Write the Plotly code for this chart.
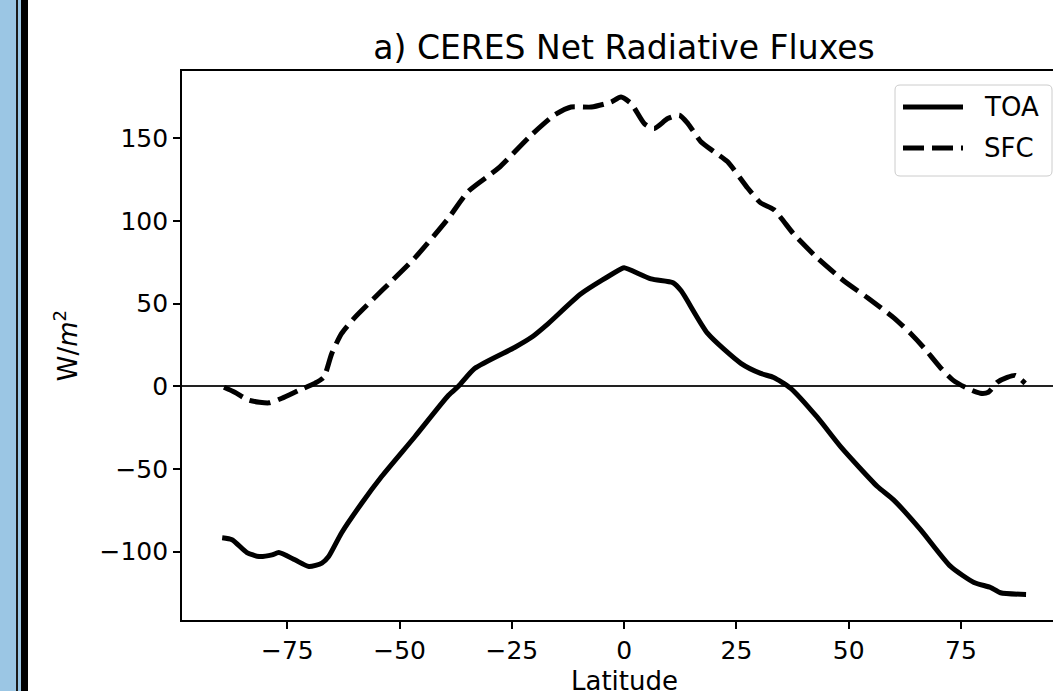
import plotly.graph_objects as go

# ---- data ----
toa_lat = [-89.5, -87.3, -84.0, -81.3, -78.4, -76.9, -73.3, -70.2, -67.3, -65.8,
           -62.9, -58.4, -54.0, -46.6, -39.1, -36.9, -33.3, -24.4, -20.7, -16.9,
           -9.6, -0.7, 0.0, 6.0, 10.9, 12.7, 18.6, 26.0, 30.4, 33.3,
           37.1, 43.0, 48.2, 56.4, 60.0, 66.0, 72.7, 77.9, 81.6, 83.8, 89.5]
toa_val = [-91.6, -92.8, -100.6, -103.0, -102.0, -100.6, -105.0, -109.0, -107.0, -103.0,
           -88.6, -70.6, -54.6, -30.5, -5.4, 0.0, 10.8, 23.5, 29.5, 38.0,
           56.0, 71.0, 71.7, 65.0, 62.7, 57.8, 32.0, 13.9, 7.8, 5.4,
           -1.2, -18.7, -36.5, -60.6, -68.7, -86.7, -109.0, -118.7, -121.7, -124.9, -125.9]

sfc_lat = [-89.1, -86.7, -83.6, -79.1, -76.2, -72.4, -68.9, -66.9, -65.1, -62.9,
           -60.0, -54.0, -46.6, -39.1, -34.7, -28.0, -20.7, -15.6, -11.8, -7.3,
           -2.9, -0.7, 1.6, 4.5, 6.7, 9.7, 12.3, 14.2, 17.1, 20.0,
           23.0, 27.5, 30.4, 33.3, 37.8, 43.0, 48.9, 54.2, 60.0, 63.8,
           66.7, 70.4, 73.3, 76.4, 79.3, 81.1, 83.1, 85.3, 87.1, 89.3]
sfc_val = [-0.6, -3.6, -8.4, -10.0, -7.2, -2.4, 1.8, 5.4, 19.9, 32.0,
           41.6, 57.8, 77.7, 101.8, 118.0, 132.0, 152.0, 164.0, 169.0, 169.0,
           172.0, 175.0, 171.0, 159.0, 156.0, 162.0, 164.0, 159.0, 148.0, 142.0,
           136.0, 120.0, 111.0, 107.0, 92.0, 77.7, 63.9, 53.6, 41.6, 32.0,
           23.5, 11.4, 3.6, -1.2, -4.2, -3.6, 2.4, 5.4, 6.6, 1.8]

series_names = ["TOA", "SFC"]
x_ticks = [-75, -50, -25, 0, 25, 50, 75]
y_ticks = [-100, -50, 0, 50, 100, 150]

FONT = "DejaVu Sans"
DASH = "21px,8px"

fig = go.Figure()
fig.add_trace(go.Scatter(x=toa_lat, y=toa_val, mode="lines", name=series_names[0], showlegend=False,
                         line=dict(color="black", width=5, shape="spline", smoothing=0.6)))
fig.add_trace(go.Scatter(x=sfc_lat, y=sfc_val, mode="lines", name=series_names[1], showlegend=False,
                         line=dict(color="black", width=5, dash=DASH,
                                   shape="spline", smoothing=0.6)))

W, H = 1053, 691
L, R, T, B = 182, 0, 71, 71
pw, ph = W - L - R, H - T - B


def px(xp):
    return (xp - L) / pw


def py(yp):
    return (H - B - yp) / ph


shapes = []
# left page decoration (blue strip with black rules)
for x0, x1, col in [(0, 16, "#9bc6e4"), (16, 18, "#1a1a1a"), (18, 21, "#9bc6e4"), (21, 28, "#000000")]:
    shapes.append(dict(type="rect", xref="paper", yref="paper", x0=px(x0), x1=px(x1),
                       y0=py(H + 5), y1=py(-5), fillcolor=col, line=dict(width=0), layer="above"))

# matplotlib-style legend box (rounded corners)
bx0, bx1, by0, by1, rad = 895, 1052, 85, 176, 5
X0, X1, YT, YB = px(bx0), px(bx1), py(by0), py(by1)
rx, ry = rad / pw, rad / ph
path = (f"M{X0+rx},{YT} L{X1-rx},{YT} Q{X1},{YT} {X1},{YT-ry} L{X1},{YB+ry} "
        f"Q{X1},{YB} {X1-rx},{YB} L{X0+rx},{YB} Q{X0},{YB} {X0},{YB+ry} "
        f"L{X0},{YT-ry} Q{X0},{YT} {X0+rx},{YT} Z")
shapes.append(dict(type="path", xref="paper", yref="paper", path=path,
                   fillcolor="rgba(255,255,255,0.8)", line=dict(color="#cccccc", width=1), layer="above"))
legend_rows = [(107, None), (148, DASH)]
annotations = []
for name, (yy, dash) in zip(series_names, legend_rows):
    ln = dict(color="black", width=5)
    if dash:
        ln["dash"] = dash
    shapes.append(dict(type="line", xref="paper", yref="paper", x0=px(903), x1=px(963),
                       y0=py(yy), y1=py(yy), line=ln, layer="above"))
    annotations.append(dict(text=name, xref="paper", yref="paper", x=px(982), y=py(yy),
                            xanchor="left", yanchor="middle", showarrow=False,
                            font=dict(size=26, family=FONT, color="black")))

# x-axis title placed like matplotlib's xlabel
annotations.append(dict(text="Latitude", xref="paper", yref="paper", x=px(624), y=py(681),
                        xanchor="center", yanchor="middle", showarrow=False,
                        font=dict(size=26, family=FONT, color="black")))

fig.update_layout(
    width=W, height=H,
    margin=dict(l=L, r=R, t=T, b=B, autoexpand=False),
    paper_bgcolor="white", plot_bgcolor="white",
    font=dict(family=FONT, color="black", size=25),
    title=dict(text="a) CERES Net Radiative Fluxes", font=dict(size=33, family=FONT, color="black"),
               x=px(624), xref="paper", xanchor="center",
               y=1 - 47 / H, yref="container", yanchor="middle"),
    xaxis=dict(range=[-98.45, 95.5], tickvals=x_ticks, ticks="outside", ticklen=7, tickwidth=1.7,
               tickcolor="black", showline=True, linecolor="black", linewidth=1.7, mirror=True,
               showgrid=False, zeroline=False, tickfont=dict(size=25), automargin=False),
    yaxis=dict(range=[-141.4, 190.8], tickvals=y_ticks, ticks="outside", ticklen=7, tickwidth=1.7,
               tickcolor="black", showline=True, linecolor="black", linewidth=1.7, mirror=False,
               showgrid=False, zeroline=True, zerolinecolor="#222222", zerolinewidth=1.5,
               tickfont=dict(size=25),
               title=dict(text="W/<i>m</i><sup>2</sup>", font=dict(size=26), standoff=14),
               automargin=False),
    shapes=shapes,
    annotations=annotations,
    showlegend=False,
)

fig.write_html("out.html")
